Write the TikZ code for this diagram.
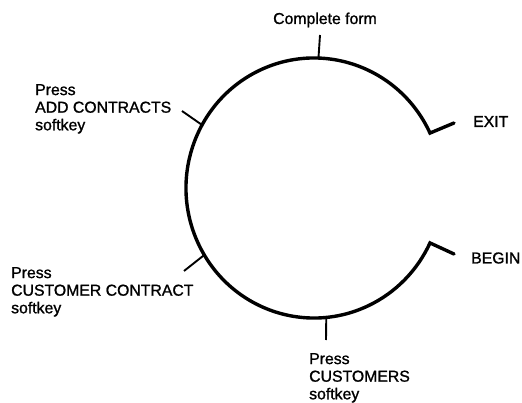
\documentclass[tikz,border=0pt]{standalone}
\usepackage{fontspec}
\setmainfont{Liberation Sans}
\newfontfamily\stepfont[FakeBold=1.2]{Liberation Sans}
\usetikzlibrary{calc}
\begin{document}
\begin{tikzpicture}[x=1pt,y=1pt,
  loopline/.style={line width=3.4pt,line cap=round,line join=miter},
  tickline/.style={line width=1.9pt},
  lbl/.style={inner sep=0pt,font=\stepfont\fontsize{15.8}{17.6}\selectfont,align=left}]
\useasboundingbox (0,0) rectangle (522,402);
% centre of the loop
\coordinate (c) at (314,214);
% ends of the loop and the hooks
\coordinate (exitend) at ($(c)+(25:128 and 130)$);
\coordinate (beginend) at ($(c)+(-25:128 and 130)$);
\coordinate (exithook) at (454,279);
\coordinate (beginhook) at (454,148);
% points on the loop where the steps sit
\coordinate (tform) at ($(c)+(88:128 and 130)$);
\coordinate (tadd) at ($(c)+(151:128 and 130)$);
\coordinate (tcc) at ($(c)+(211:128 and 130)$);
\coordinate (tcust) at ($(c)+(275.5:128 and 130)$);
\coordinate (oform) at (320,367);
\coordinate (oadd) at (182,291);
\coordinate (occ) at (184,131);
\coordinate (ocust) at (326,62);
% the loop
\draw[loopline] (exithook) -- (exitend) arc[start angle=25,end angle=335,x radius=128,y radius=130] -- (beginhook);
% step ticks
\draw[tickline] (tform) -- (oform);
\draw[tickline] (tadd) -- (oadd);
\draw[tickline] (tcc) -- (occ);
\draw[tickline] (tcust) -- (ocust);
% texts
\node[lbl,anchor=base] (form) at (325,378) {Complete form};
\node[lbl,anchor=north west] (add) at (35,318) {Press\\ADD CONTRACTS\\softkey};
\node[lbl,anchor=north west] (cc) at (11,135) {Press\\CUSTOMER CONTRACT\\softkey};
\node[lbl,anchor=north west] (cust) at (309,49) {Press\\CUSTOMERS\\softkey};
\node[lbl,anchor=west] (exit) at (473,280.5) {EXIT};
\node[lbl,anchor=west] (begin) at (471,144) {BEGIN};
\end{tikzpicture}
\end{document}
